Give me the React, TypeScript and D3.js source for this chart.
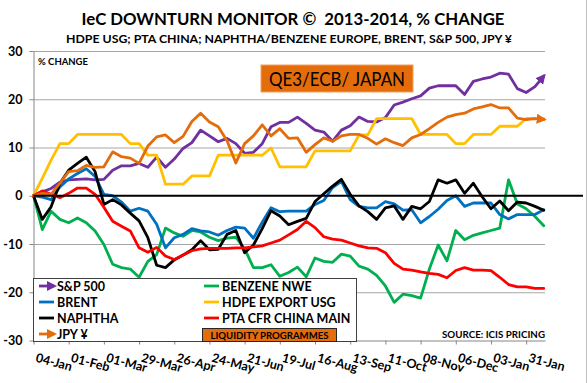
import React, { useEffect, useRef } from "react";
import * as d3 from "d3";

const WEEKS = [
  "2013-01-04", "2013-01-11", "2013-01-18", "2013-01-25", "2013-02-01", "2013-02-08", "2013-02-15", "2013-02-22",
  "2013-03-01", "2013-03-08", "2013-03-15", "2013-03-22", "2013-03-29", "2013-04-05", "2013-04-12", "2013-04-19",
  "2013-04-26", "2013-05-03", "2013-05-10", "2013-05-17", "2013-05-24", "2013-05-31", "2013-06-07", "2013-06-14",
  "2013-06-21", "2013-06-28", "2013-07-05", "2013-07-12", "2013-07-19", "2013-07-26", "2013-08-02", "2013-08-09",
  "2013-08-16", "2013-08-23", "2013-08-30", "2013-09-06", "2013-09-13", "2013-09-20", "2013-09-27", "2013-10-04",
  "2013-10-11", "2013-10-18", "2013-10-25", "2013-11-01", "2013-11-08", "2013-11-15", "2013-11-22", "2013-11-29",
  "2013-12-06", "2013-12-13", "2013-12-20", "2013-12-27", "2014-01-03", "2014-01-10", "2014-01-17", "2014-01-24",
  "2014-01-31", "2014-02-07", "2014-02-14",
];

const TICK_DATES = [
  "2013-01-04", "2013-02-01", "2013-03-01", "2013-03-29", "2013-04-26", "2013-05-24", "2013-06-21", "2013-07-19",
  "2013-08-16", "2013-09-13", "2013-10-11", "2013-11-08", "2013-12-06", "2014-01-03", "2014-01-31",
];
const TICK_LABELS = [
  "04-Jan", "01-Feb", "01-Mar", "29-Mar", "26-Apr", "24-May", "21-Jun", "19-Jul",
  "16-Aug", "13-Sep", "11-Oct", "08-Nov", "06-Dec", "03-Jan", "31-Jan",
];
const Y_TICKS = [-30, -20, -10, 0, 10, 20, 30];

const SP500 = [0, 0.8, 1.5, 2.8, 3.3, 3.4, 3.5, 3.3, 3.4, 5.3, 6.2, 6.2, 6.7, 5.9, 8.0, 5.9, 7.6, 9.8, 11.0, 13.6,
  12.4, 11.2, 11.9, 10.8, 8.8, 9.0, 10.8, 14.3, 15.2, 15.2, 16.3, 15.0, 13.6, 13.2, 11.3, 13.6, 14.5, 16.3, 15.4, 15.3,
  16.2, 18.8, 19.4, 20.1, 20.7, 22.3, 22.8, 22.8, 22.8, 21.0, 23.7, 24.2, 24.6, 25.4, 25.2, 22.2, 21.4, 22.6, 24.8];
const BENZENE = [0, -7.0, -3.2, -4.9, -5.6, -4.6, -5.6, -7.3, -10.1, -14.2, -14.9, -15.2, -16.9, -13.6, -12.2, -6.7, -7.7, -8.4, -7.2, -7.5,
  -8.6, -9.3, -8.8, -8.6, -11.0, -14.9, -14.9, -14.3, -16.7, -15.9, -14.8, -16.8, -12.9, -13.6, -13.8, -12.1, -12.5, -14.6, -15.2, -16.5,
  -18.7, -22.1, -20.4, -20.7, -21.2, -15.2, -10.2, -13.5, -7.2, -9.1, -8.2, -7.7, -7.2, -6.7, 3.3, -1.7, -2.7, -4.3, -6.2];
const BRENT = [0, -0.3, -0.8, 1.8, 3.5, 4.6, 5.6, 4.0, 0.3, 0, -1.3, -3.2, -2.6, -3.2, -5.9, -10.8, -8.7, -8.0, -6.8, -7.3,
  -7.5, -8.2, -7.2, -6.5, -6.7, -8.8, -5.5, -2.5, -3.3, -3.2, -3.2, -3.2, -1.8, -1.0, 1.7, 3.0, -0.8, -2.2, -2.5, -2.5,
  -1.2, -1.7, -3.0, -2.9, -5.6, -4.3, -2.8, -1.0, 0.0, -2.2, -1.5, -1.5, -1.5, -3.9, -4.8, -3.9, -3.9, -3.9, -2.9];
const HDPE = [0, 3.6, 7.4, 10.8, 10.8, 12.7, 12.7, 12.7, 12.7, 12.7, 12.7, 10.8, 10.8, 8.4, 8.4, 2.4, 2.4, 2.4, 4.1, 4.1,
  4.1, 8.4, 8.4, 8.4, 8.4, 8.4, 8.4, 9.9, 6.0, 6.0, 6.0, 6.0, 9.3, 9.3, 9.3, 9.3, 9.3, 12.6, 12.6, 16.0,
  16.0, 16.0, 16.0, 16.0, 12.7, 12.7, 12.7, 12.7, 10.8, 10.8, 12.7, 12.7, 12.7, 14.4, 14.4, 14.4, 16.0, 16.0, 16.0];
const NAPHTHA = [0, -4.9, -2.3, 2.6, 5.3, 6.7, 8.0, 5.0, -1.8, -0.8, -1.9, -3.6, -5.2, -8.7, -14.4, -14.9, -13.3, -12.3, -11.2, -9.3,
  -11.2, -11.1, -8.0, -7.2, -11.8, -10.2, -6.8, -3.1, -4.2, -6.0, -5.3, -4.7, -1.2, 0.4, 2.0, 3.4, 0.3, -2.1, -3.3, -4.9,
  -2.5, -2.1, -4.9, -2.2, -2.7, -1.2, 3.3, 2.6, 3.3, 0.5, 2.6, -0.2, -2.7, -1.1, -3.1, -1.3, -1.5, -2.2, -3.0];
const PTA = [0, 1.0, 0.3, -0.4, 0.5, 1.6, 1.6, 0.3, -2.4, -5.3, -6.3, -7.3, -10.8, -11.7, -10.7, -12.5, -13.2, -12.3, -11.4, -11.0,
  -10.9, -10.9, -10.9, -10.8, -10.8, -10.6, -10.4, -9.8, -9.2, -8.1, -7.0, -5.3, -6.6, -8.5, -9.0, -9.2, -9.8, -10.4, -10.8, -10.9,
  -11.8, -14.0, -15.2, -15.4, -15.8, -16.1, -16.3, -17.0, -15.5, -14.9, -15.4, -15.4, -15.5, -16.9, -18.4, -18.9, -18.9, -19.2, -19.2];
const JPY = [0, 0.5, 0.3, 2.6, 5.0, 5.2, 6.3, 5.9, 6.0, 9.1, 8.1, 7.8, 6.7, 10.3, 12.2, 12.6, 11.0, 12.3, 15.4, 17.1,
  15.3, 14.3, 11.4, 6.8, 10.8, 12.4, 14.7, 12.4, 13.9, 11.9, 12.0, 9.0, 10.6, 12.0, 11.3, 12.4, 12.7, 12.7, 11.9, 10.7,
  11.8, 11.0, 10.4, 12.0, 12.7, 13.9, 15.2, 16.3, 16.8, 17.1, 18.0, 18.4, 18.9, 18.2, 18.2, 16.1, 15.8, 16.0, 15.8];

const SERIES_NAMES = ["S&P 500", "BENZENE NWE", "BRENT", "HDPE EXPORT USG", "NAPHTHA", "PTA CFR CHINA MAIN", "JPY ¥"];
const SERIES_VALUES = [SP500, BENZENE, BRENT, HDPE, NAPHTHA, PTA, JPY];
const SERIES_COLORS = ["#7030A0", "#00B050", "#0070C0", "#FFC000", "#000000", "#FF0000", "#E46C0A"];
const SERIES_ARROW = [true, false, false, false, false, false, true];
// legend slot order: left column then right column
const LEGEND_ORDER = [0, 2, 4, 6, 1, 3, 5];

const FONT = "Lato, 'Open Sans', 'DejaVu Sans', sans-serif";

export default function App() {
  const ref = useRef<SVGSVGElement>(null);

  useEffect(() => {
    const svg = d3.select(ref.current);
    svg.selectAll("*").remove();
    const parse = d3.timeParse("%Y-%m-%d");
    const dates = WEEKS.map((s) => parse(s) as Date);
    const tickDates = TICK_DATES.map((s) => parse(s) as Date);

    const left = 33.5, right = 545, top = 51, bottom = 340.5;
    const x = d3.scaleTime().domain([dates[0], d3.timeDay.offset(dates[dates.length - 1], 1)]).range([left, right]);
    const y = d3.scaleLinear().domain([-30, 30]).range([bottom, top]);

    const defs = svg.append("defs");
    SERIES_COLORS.forEach((c, i) => {
      if (!SERIES_ARROW[i]) return;
      defs.append("marker")
        .attr("id", `arrow${i}`)
        .attr("viewBox", "0 0 10 10")
        .attr("refX", 7).attr("refY", 5)
        .attr("markerWidth", 3.6).attr("markerHeight", 3.6)
        .attr("orient", "auto")
        .append("path").attr("d", "M0,0 L10,5 L0,10 z").attr("fill", c);
    });

    svg.append("rect").attr("width", 587).attr("height", 383).attr("fill", "#fff");
    svg.append("line").attr("x1", 586.5).attr("x2", 586.5).attr("y1", 0).attr("y2", 383)
      .attr("stroke", "#BFBFBF");

    // titles
    svg.append("text").attr("x", 293).attr("y", 25).attr("text-anchor", "middle")
      .style("white-space", "pre")
      .attr("font-size", 17.5).attr("font-weight", 700).attr("textLength", 423).attr("lengthAdjust", "spacingAndGlyphs")
      .text("IeC DOWNTURN MONITOR ©  2013-2014, % CHANGE");
    svg.append("text").attr("x", 289).attr("y", 43).attr("text-anchor", "middle")
      .attr("font-size", 11.8).attr("font-weight", 700).attr("textLength", 446).attr("lengthAdjust", "spacingAndGlyphs")
      .text("HDPE USG; PTA CHINA; NAPHTHA/BENZENE EUROPE, BRENT, S&P 500, JPY ¥");

    // gridlines
    const g = svg.append("g");
    g.selectAll("line.grid").data(Y_TICKS.filter((v) => v !== 0 && v !== -30)).join("line")
      .attr("x1", left).attr("x2", right)
      .attr("y1", (d) => y(d) + 0.5).attr("y2", (d) => y(d) + 0.5)
      .attr("stroke", "#A6A6A6").attr("stroke-width", 1);

    // y axis
    const yAxis = svg.append("g").attr("transform", `translate(${left},0)`)
      .call(d3.axisLeft(y).tickValues(Y_TICKS).tickSize(4).tickSizeOuter(0).tickPadding(7).tickFormat((d) => String(d)));
    yAxis.select(".domain").attr("stroke", "#868686");
    yAxis.selectAll(".tick line").attr("stroke", "#868686");
    yAxis.selectAll(".tick text").attr("font-family", FONT).attr("font-size", 12.5).attr("font-weight", 700).attr("fill", "#000");

    // x axis
    const xAxis = svg.append("g").attr("transform", `translate(0,${bottom})`)
      .call(d3.axisBottom(x).tickValues(tickDates).tickSize(4).tickSizeOuter(0)
        .tickFormat((_d, i) => TICK_LABELS[i]));
    xAxis.select(".domain").attr("stroke", "#868686");
    xAxis.selectAll(".tick line").attr("stroke", "#868686");
    xAxis.selectAll(".tick text")
      .attr("font-family", FONT).attr("font-size", 12.5).attr("font-weight", 700).attr("fill", "#000")
      .attr("x", 0).attr("y", 0).attr("dy", 0)
      .attr("text-anchor", "start")
      .attr("transform", "translate(1,21) rotate(15)");

    svg.append("text").attr("x", 38).attr("y", 65).attr("font-size", 9.5).attr("font-weight", 700).text("% CHANGE");

    // series
    const line = d3.line<number>().x((_d, i) => x(dates[i])).y((d) => y(d));
    SERIES_VALUES.forEach((vals, i) => {
      const p = svg.append("path").attr("d", line(vals) as string)
        .attr("fill", "none").attr("stroke", SERIES_COLORS[i]).attr("stroke-width", 2.8)
        .attr("stroke-linejoin", "round").attr("stroke-linecap", "round");
      if (SERIES_ARROW[i]) p.attr("marker-end", `url(#arrow${i})`);
    });

    // zero line
    svg.append("line").attr("x1", left).attr("x2", 583).attr("y1", y(0)).attr("y2", y(0))
      .attr("stroke", "#000").attr("stroke-width", 2);

    // QE3 box
    svg.append("rect").attr("x", 261).attr("y", 65).attr("width", 152).attr("height", 27)
      .attr("fill", "#E46C0A").attr("stroke", "#F0A060").attr("stroke-width", 1);
    svg.append("text").attr("x", 337).attr("y", 85.5).attr("text-anchor", "middle")
      .attr("font-size", 19).attr("textLength", 136).attr("lengthAdjust", "spacingAndGlyphs")
      .text("QE3/ECB/ JAPAN");

    // legend
    const lg = svg.append("g");
    lg.append("rect").attr("x", 33.5).attr("y", 278.5).attr("width", 323).attr("height", 63)
      .attr("fill", "#fff").attr("stroke", "#404040").attr("stroke-width", 1);
    LEGEND_ORDER.forEach((si, slot) => {
      const col = slot < 4 ? 0 : 1;
      const row = slot < 4 ? slot : slot - 4;
      const lx = col === 0 ? 39 : 204;
      const ly = 286 + row * 16;
      const l = lg.append("line").attr("x1", lx).attr("x2", lx + 15).attr("y1", ly).attr("y2", ly)
        .attr("stroke", SERIES_COLORS[si]).attr("stroke-width", 2.8);
      if (SERIES_ARROW[si]) l.attr("marker-end", `url(#arrow${si})`);
      lg.append("text").attr("x", lx + 18).attr("y", ly + 4.5).attr("font-size", 12.5).attr("font-weight", 700)
        .text(SERIES_NAMES[si]);
    });
    lg.append("rect").attr("x", 202.5).attr("y", 328.5).attr("width", 134).attr("height", 13)
      .attr("fill", "#E46C0A").attr("stroke", "#262626").attr("stroke-width", 1);
    lg.append("text").attr("x", 269.5).attr("y", 338.5).attr("text-anchor", "middle")
      .attr("font-size", 8.5).attr("font-weight", 700).attr("textLength", 118).attr("lengthAdjust", "spacingAndGlyphs")
      .text("LIQUIDITY PROGRAMMES");

    svg.append("text").attr("x", 545).attr("y", 337.5).attr("text-anchor", "end")
      .attr("font-size", 8.5).attr("font-weight", 700).attr("textLength", 103).attr("lengthAdjust", "spacingAndGlyphs")
      .text("SOURCE: ICIS PRICING");
  }, []);

  return (
    <svg
      ref={ref}
      width={587}
      height={383}
      style={{ position: "absolute", left: 0, top: 0, fontFamily: FONT }}
    />
  );
}
